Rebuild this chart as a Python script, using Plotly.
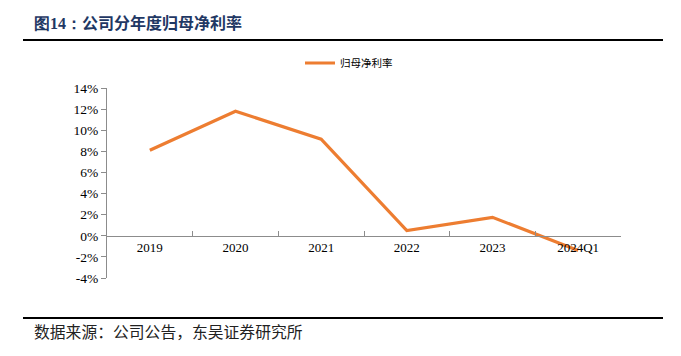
import plotly.graph_objects as go

categories = ["2019", "2020", "2021", "2022", "2023", "2024Q1"]
net_margin = [8.1, 11.8, 9.15, 0.5, 1.75, -1.4]
series_name = "归母净利率"
y_tickvals = [-4, -2, 0, 2, 4, 6, 8, 10, 12, 14]
y_ticktext = ["-4%", "-2%", "0%", "2%", "4%", "6%", "8%", "10%", "12%", "14%"]

OFF = 8  # page body margin
W, H = 681 - 2 * OFF, 356 - 2 * OFF
L, R, T, B = 107 - OFF, 621 - OFF, 88 - OFF, 278 - OFF


def px_x(px):
    return (px - OFF - L) / (R - L)


def px_y(py):
    return (B - (py - OFF)) / (B - T)


fig = go.Figure()
fig.add_trace(go.Scatter(
    x=categories, y=net_margin, mode="lines", name=series_name,
    line=dict(color="#ED7D31", width=3.2), showlegend=True,
))

fig.update_layout(
    width=W, height=H,
    margin=dict(l=L, r=W - R, t=T, b=H - B),
    paper_bgcolor="white", plot_bgcolor="white",
    font=dict(family="Liberation Serif, Times New Roman, serif", size=13, color="black"),
    showlegend=True,
    legend=dict(orientation="h", x=px_x(300), xanchor="left", y=px_y(63), yanchor="middle",
                font=dict(family="Noto Sans CJK SC", size=10.5, color="black"),
                itemwidth=30, bgcolor="rgba(0,0,0,0)"),
    xaxis=dict(
        type="category", anchor="free", position=4 / 18,
        showline=True, linecolor="#8c8c8c", linewidth=1,
        ticks="inside", ticklen=5, tickcolor="#8c8c8c", tickson="boundaries",
        showgrid=False, zeroline=False,
        tickfont=dict(family="Liberation Serif", size=13, color="black"),
        range=[-0.5, 5.5],
    ),
    yaxis=dict(
        range=[-4, 14], tickvals=y_tickvals, ticktext=y_ticktext,
        showline=True, linecolor="#8c8c8c", linewidth=1,
        ticks="outside", ticklen=5, tickcolor="#8c8c8c",
        showgrid=False, zeroline=False,
        tickfont=dict(family="Liberation Serif", size=13.5, color="black"),
    ),
)

# header/footer rules
for py in (40, 318):
    fig.add_shape(type="line", xref="paper", yref="paper",
                  x0=px_x(23), x1=px_x(663), y0=px_y(py), y1=px_y(py),
                  line=dict(color="black", width=2))

fig.add_annotation(
    xref="paper", yref="paper", x=px_x(32), y=px_y(22), xanchor="left", yanchor="middle",
    text="<b><span style='font-family:Liberation Serif'>图14：</span>公司分年度归母净利率</b>",
    showarrow=False, font=dict(family="Noto Sans CJK SC", size=16, color="#1F3864"),
)
fig.add_annotation(
    xref="paper", yref="paper", x=px_x(32), y=px_y(331), xanchor="left", yanchor="middle",
    text="数据来源：公司公告，东吴证券研究所",
    showarrow=False, font=dict(family="Noto Sans CJK SC", size=15.8, color="#222222"),
)

fig.write_html("out.html")
